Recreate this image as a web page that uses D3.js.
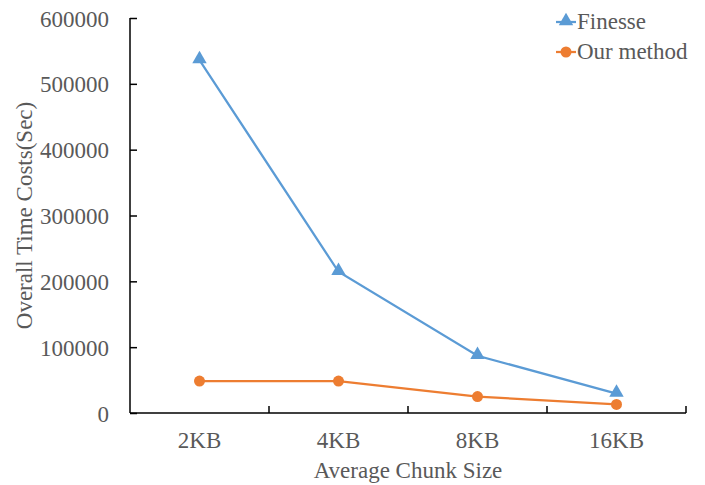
<!DOCTYPE html>
<html>
<head>
<meta charset="utf-8">
<script src="https://cdn.jsdelivr.net/npm/d3@7"></script>
<style>
  body { margin: 0; background: #fff; }
  text { font-family: "Liberation Serif", "Times New Roman", serif; fill: #595959; }
</style>
</head>
<body>
<svg id="chart" width="705" height="485"></svg>
<script>
const categories = ["2KB", "4KB", "8KB", "16KB"];
const finesse = [536000, 214500, 87000, 29500];
const ourMethod = [48500, 48500, 25000, 13000];
const yTicks = [0, 100000, 200000, 300000, 400000, 500000, 600000];

const margin = {left: 130, right: 19, top: 18, bottom: 72};
const w = 705, h = 485;
const fs = 23;

const svg = d3.select("#chart");

const x = d3.scaleBand().domain(categories).range([margin.left, w - margin.right]);
const y = d3.scaleLinear().domain([0, 600000]).range([h - margin.bottom, margin.top]);

// y axis, ticks inward
const yAxis = svg.append("g")
  .attr("transform", `translate(${margin.left},0)`)
  .call(d3.axisLeft(y).tickValues(yTicks).tickSize(-7).tickPadding(21).tickFormat(d3.format("d")));
yAxis.select(".domain").attr("stroke", "#000").attr("stroke-width", 1.5).attr("d", `M0,${y(600000)}V${y(0)}`);
yAxis.selectAll(".tick line").attr("stroke", "#000").attr("stroke-width", 1.5);
yAxis.selectAll(".tick text").attr("font-size", fs).attr("fill", "#595959")
  .attr("font-family", "Liberation Serif").attr("dy", "0.35em");

// x axis with category boundary ticks pointing up
const xg = svg.append("g").attr("transform", `translate(0,${y(0)})`);
xg.append("line")
  .attr("x1", margin.left).attr("x2", w - margin.right)
  .attr("stroke", "#000").attr("stroke-width", 1.5);
const bounds = categories.map(c => x(c) + x.bandwidth());
xg.selectAll(".bt").data(bounds).join("line")
  .attr("x1", d => d).attr("x2", d => d)
  .attr("y1", 0).attr("y2", -7)
  .attr("stroke", "#000").attr("stroke-width", 1.5);
xg.selectAll(".xl").data(categories).join("text")
  .attr("x", d => x(d) + x.bandwidth() / 2)
  .attr("y", 35)
  .attr("text-anchor", "middle")
  .attr("font-size", fs)
  .text(d => d);

// axis titles
svg.append("text")
  .attr("x", (margin.left + w - margin.right) / 2)
  .attr("y", 478)
  .attr("text-anchor", "middle")
  .attr("font-size", fs)
  .text("Average Chunk Size");

svg.append("text")
  .attr("transform", `translate(32,${(y(0) + y(600000)) / 2}) rotate(-90)`)
  .attr("text-anchor", "middle")
  .attr("font-size", fs)
  .text("Overall Time Costs(Sec)");

const cx = d => x(d) + x.bandwidth() / 2;
const line = d3.line().x((d, i) => cx(categories[i])).y(d => y(d));

const tri = d3.symbol().type(d3.symbolTriangle).size(90);

// Finesse
svg.append("path").datum(finesse)
  .attr("d", line).attr("fill", "none")
  .attr("stroke", "#5B9BD5").attr("stroke-width", 2.25);
svg.selectAll(".fm").data(finesse).join("path")
  .attr("d", tri)
  .attr("transform", (d, i) => `translate(${cx(categories[i])},${y(d) - 1})`)
  .attr("fill", "#5B9BD5");

// Our method
svg.append("path").datum(ourMethod)
  .attr("d", line).attr("fill", "none")
  .attr("stroke", "#ED7D31").attr("stroke-width", 2.25);
svg.selectAll(".om").data(ourMethod).join("circle")
  .attr("cx", (d, i) => cx(categories[i]))
  .attr("cy", d => y(d))
  .attr("r", 5.5)
  .attr("fill", "#ED7D31");

// legend
const legend = [
  {name: "Finesse", color: "#5B9BD5", shape: "tri", y: 22},
  {name: "Our method", color: "#ED7D31", shape: "circle", y: 52}
];
const lg = svg.append("g");
legend.forEach(l => {
  lg.append("line")
    .attr("x1", 556).attr("x2", 576)
    .attr("y1", l.y).attr("y2", l.y)
    .attr("stroke", l.color).attr("stroke-width", 2.25);
  if (l.shape === "tri") {
    lg.append("path").attr("d", tri)
      .attr("transform", `translate(566,${l.y - 1})`)
      .attr("fill", l.color);
  } else {
    lg.append("circle").attr("cx", 566).attr("cy", l.y).attr("r", 5.5).attr("fill", l.color);
  }
  lg.append("text")
    .attr("x", 577).attr("y", l.y + 7)
    .attr("font-size", fs)
    .text(l.name);
});
</script>
</body>
</html>
